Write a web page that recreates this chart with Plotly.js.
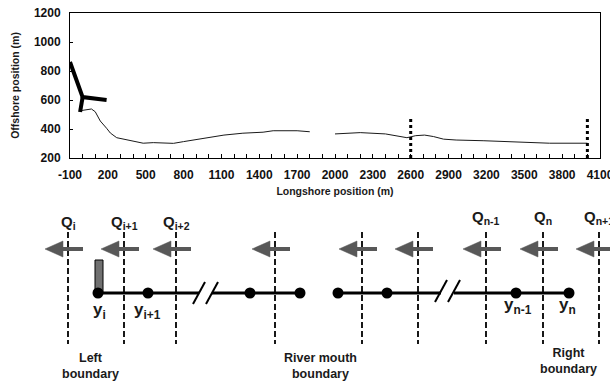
<!DOCTYPE html>
<html>
<head>
<meta charset="utf-8">
<script src="https://cdn.plot.ly/plotly-3.0.1.min.js"></script>
<style>html,body{margin:0;padding:0;background:#fff}#chart{width:610px;height:381px}</style>
</head>
<body>
<div id="chart"></div>
<script>
// ---------- Top chart data ----------
const xTicks = [-100, 200, 500, 800, 1100, 1400, 1700, 2000, 2300, 2600, 2900, 3200, 3500, 3800, 4100];
const yTicks = [200, 400, 600, 800, 1000, 1200];
const shoreX1 = [-20, 70, 100, 140, 190, 220, 270, 380, 480, 560, 720, 800, 950, 1120, 1270, 1430, 1510, 1700, 1800];
const shoreY1 = [526, 538, 519, 455, 405, 372, 340, 318, 302, 306, 301, 313, 332, 358, 371, 378, 388, 388, 381];
const shoreX2 = [2000, 2200, 2400, 2500, 2570, 2610, 2640, 2710, 2780, 2860, 2960, 3180, 3440, 3700, 4000];
const shoreY2 = [366, 375, 366, 352, 340, 348, 354, 358, 348, 330, 324, 319, 312, 302, 302];
const groyneX = [-100, 0, 190, null, 0, -20];
const groyneY = [862, 620, 600, null, 620, 517];
const boundX = [2600, 2600, null, 4000, 4000];
const boundY = [200, 475, null, 200, 480];

// ---------- Schematic (diagram units) ----------
const qLines = [68, 124, 176, 275, 362, 418, 486, 543, 599];
const qLabels = ['Q<sub>i</sub>', 'Q<sub>i+1</sub>', 'Q<sub>i+2</sub>', '', '', '', 'Q<sub>n-1</sub>', 'Q<sub>n</sub>', 'Q<sub>n+1</sub>'];
const qLabelY = [222, 222, 222, 0, 0, 0, 217, 217, 217];
const nodeX = [98, 148, 250, 300, 338, 387, 516, 569];
const nodeY = [293, 293, 293, 293, 293, 293, 293, 293];
const yLabelX = [99, 147, 518, 567];
const yLabelY = [311, 311, 306, 306];
const yLabels = ['y<sub>i</sub>', 'y<sub>i+1</sub>', 'y<sub>n-1</sub>', 'y<sub>n</sub>'];
const boundaryLabels = ['Left<br>boundary', 'River mouth<br>boundary', 'Right<br>boundary'];
const boundaryLabelX = [90, 320, 568];
const boundaryLabelY = [366, 366, 361];
const lineX = [98, 199, null, 212, 300, null, 338, 441, null, 454, 569];
const slashX = [193, 205, null, 206, 218, null, 435, 447, null, 448, 460];
const slashY = [304, 282, null, 304, 282, null, 302, 280, null, 302, 280];

const FONT = 'Liberation Sans, Arial, Helvetica, sans-serif';
const W = 610, H = 381;

const traces = [
  {x: shoreX1, y: shoreY1, type: 'scatter', mode: 'lines', line: {color: '#1a1a1a', width: 1}, xaxis: 'x', yaxis: 'y', hoverinfo: 'skip'},
  {x: shoreX2, y: shoreY2, type: 'scatter', mode: 'lines', line: {color: '#1a1a1a', width: 1}, xaxis: 'x', yaxis: 'y', hoverinfo: 'skip'},
  {x: groyneX, y: groyneY, type: 'scatter', mode: 'lines', line: {color: '#000', width: 4}, connectgaps: false, xaxis: 'x', yaxis: 'y', hoverinfo: 'skip'},
  {x: boundX, y: boundY, type: 'scatter', mode: 'lines', line: {color: '#000', width: 3, dash: 'dot'}, connectgaps: false, xaxis: 'x', yaxis: 'y', hoverinfo: 'skip'},
  // schematic
  {x: [95, 103, 103, 95, 95], y: [260, 260, 293, 293, 260], type: 'scatter', mode: 'lines', fill: 'toself', fillcolor: '#707070', line: {color: '#000', width: 1}, xaxis: 'x2', yaxis: 'y2', hoverinfo: 'skip'},
  {x: lineX, y: lineX.map(v => v === null ? null : 293), type: 'scatter', mode: 'lines', line: {color: '#000', width: 3}, connectgaps: false, xaxis: 'x2', yaxis: 'y2', hoverinfo: 'skip'},
  {x: slashX, y: slashY, type: 'scatter', mode: 'lines', line: {color: '#000', width: 2}, connectgaps: false, xaxis: 'x2', yaxis: 'y2', hoverinfo: 'skip'},
  {x: nodeX, y: nodeY, type: 'scatter', mode: 'markers', marker: {color: '#000', size: 11}, xaxis: 'x2', yaxis: 'y2', hoverinfo: 'skip'}
];

const shapes = [];
qLines.forEach(x => {
  shapes.push({type: 'line', xref: 'x2', yref: 'y2', x0: x, x1: x, y0: 232, y1: 344, line: {color: '#000', width: 1.8, dash: '6px,3px'}});
});
const arrowY = 249;
qLines.forEach(x => {
  const tip = x - 23, base = tip + 18, tail = x + 15;
  shapes.push({type: 'line', xref: 'x2', yref: 'y2', x0: base - 1, x1: tail, y0: arrowY, y1: arrowY, line: {color: '#585858', width: 4}});
  shapes.push({type: 'path', xref: 'x2', yref: 'y2', path: `M ${tip} ${arrowY} L ${base} ${arrowY - 8} L ${base} ${arrowY + 8} Z`, fillcolor: '#585858', line: {color: '#585858', width: 0.5}});
});

const annotations = [];
qLines.forEach((x, i) => {
  if (!qLabels[i]) return;
  annotations.push({xref: 'x2', yref: 'y2', x: x, y: qLabelY[i], text: '<b>' + qLabels[i] + '</b>', showarrow: false, xanchor: 'center', yanchor: 'middle', font: {family: FONT, size: 15, color: '#1a1a1a'}});
});
yLabels.forEach((t, i) => {
  annotations.push({xref: 'x2', yref: 'y2', x: yLabelX[i], y: yLabelY[i], text: '<b>' + t + '</b>', showarrow: false, xanchor: 'center', yanchor: 'middle', font: {family: FONT, size: 17, color: '#1a1a1a'}});
});
boundaryLabels.forEach((t, i) => {
  annotations.push({xref: 'x2', yref: 'y2', x: boundaryLabelX[i], y: boundaryLabelY[i], text: '<b>' + t + '</b>', showarrow: false, xanchor: 'center', yanchor: 'middle', font: {family: FONT, size: 12.5, color: '#1a1a1a'}});
});

const tickFont = {family: FONT, size: 12, color: '#111'};
const layout = {
  width: W, height: H,
  margin: {l: 0, r: 0, t: 0, b: 0},
  paper_bgcolor: '#fff', plot_bgcolor: 'rgba(0,0,0,0)',
  showlegend: false,
  xaxis: {
    domain: [70 / W, 600 / W], range: [-100, 4100], anchor: 'y',
    tickvals: xTicks, ticktext: xTicks.map(v => '<b>' + v + '</b>'),
    ticks: 'inside', ticklen: 4, tickcolor: '#000', tickwidth: 1,
    minor: {dtick: 100, tick0: -100, ticks: 'inside', ticklen: 4, tickcolor: '#000', tickwidth: 1, showgrid: false},
    showline: true, linecolor: '#000', linewidth: 1, mirror: true,
    showgrid: false, zeroline: false, tickfont: tickFont,
    ticklabelstandoff: 6, ticklabeloverflow: 'allow',
    title: {text: '<b>Longshore position (m)</b>', font: {family: FONT, size: 10.5, color: '#1a1a1a'}, standoff: 6},
    fixedrange: true
  },
  yaxis: {
    domain: [(H - 158) / H, (H - 13) / H], range: [200, 1200], anchor: 'x',
    tickvals: yTicks, ticktext: yTicks.map(v => '<b>' + v + '</b>'),
    ticks: 'inside', ticklen: 3, tickcolor: '#000', tickwidth: 1,
    showline: true, linecolor: '#000', linewidth: 1, mirror: true,
    showgrid: false, zeroline: false, tickfont: tickFont,
    ticklabelstandoff: 6, ticklabeloverflow: 'allow',
    title: {text: '<b>Offshore position (m)</b>', font: {family: FONT, size: 10.5, color: '#1a1a1a'}, standoff: 12},
    fixedrange: true
  },
  xaxis2: {domain: [0, 1], range: [0, W], anchor: 'y2', visible: false, fixedrange: true},
  yaxis2: {domain: [0, 1], range: [H, 0], anchor: 'x2', visible: false, fixedrange: true},
  shapes: shapes,
  annotations: annotations
};

Plotly.newPlot('chart', traces, layout, {staticPlot: true, displayModeBar: false});
</script>
</body>
</html>
